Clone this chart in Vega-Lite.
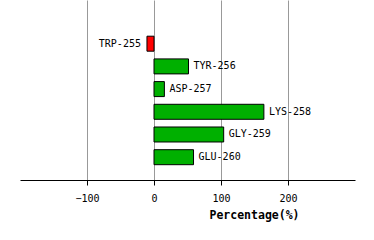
{
  "$schema": "https://vega.github.io/schema/vega-lite/v6.json",
  "autosize": "none",
  "width": 335,
  "height": 180,
  "padding": {"left": 20, "top": 0, "right": 19, "bottom": 60},
  "background": "white",
  "config": {"view": {"stroke": null}},
  "data": {"values": [
    {"residue": "TRP-255", "value": -10.5},
    {"residue": "TYR-256", "value": 51.5},
    {"residue": "ASP-257", "value": 15.5},
    {"residue": "LYS-258", "value": 164},
    {"residue": "GLY-259", "value": 104},
    {"residue": "GLU-260", "value": 59}
  ]},
  "encoding": {
    "y": {
      "field": "residue", "type": "nominal", "sort": null,
      "scale": {"paddingInner": 0.07, "paddingOuter": 1, "align": 0.73, "round": false},
      "axis": null
    },
    "x": {
      "field": "value", "type": "quantitative",
      "scale": {"domain": [-200, 300], "nice": false, "zero": false},
      "axis": {
        "values": [-100, 0, 100, 200],
        "title": "Percentage(%)",
        "titleFont": "DejaVu Sans Mono", "titleFontSize": 11.5, "titleFontWeight": "bold",
        "titleColor": "black", "titleX": 234, "titleY": 29, "titleAlign": "center",
        "labelFont": "DejaVu Sans Mono", "labelFontSize": 10, "labelColor": "black",
        "labelPadding": 8,
        "domainColor": "black", "tickColor": "black", "tickSize": 5,
        "grid": true, "gridColor": "#999999", "gridWidth": 1
      }
    }
  },
  "layer": [
    {
      "mark": {"type": "bar", "height": 15, "stroke": "black", "strokeWidth": 1},
      "encoding": {
        "color": {
          "condition": {"test": "datum.value < 0", "value": "#ff0000"},
          "value": "#00b000"
        }
      }
    },
    {
      "transform": [{"filter": "datum.value >= 0"}],
      "mark": {"type": "text", "align": "left", "dx": 5, "font": "DejaVu Sans Mono", "fontSize": 10, "color": "black"},
      "encoding": {"text": {"field": "residue"}}
    },
    {
      "transform": [{"filter": "datum.value < 0"}],
      "mark": {"type": "text", "align": "right", "dx": -6, "font": "DejaVu Sans Mono", "fontSize": 10, "color": "black"},
      "encoding": {"text": {"field": "residue"}}
    }
  ]
}
